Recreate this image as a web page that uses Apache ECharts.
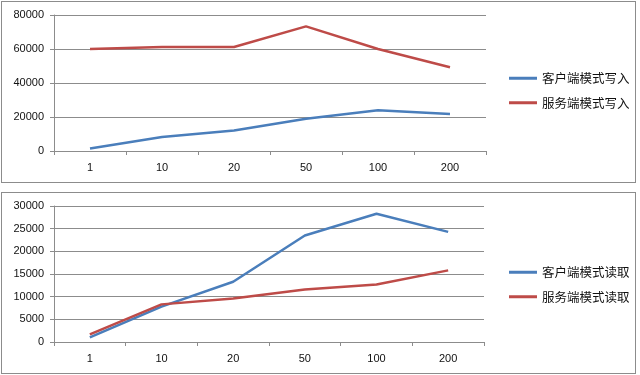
<!DOCTYPE html>
<html>
  <head>
    <meta charset="utf-8">
    <title></title>
    <style media="screen">
    body{margin:0; background:#fff;}
    .box{position:absolute; left:1px; width:633px; height:180px; border:1px solid #8c8c8c;}
    .box1{top:1px;}
    .box2{top:192px;}
    </style>
    <script src="https://cdn.jsdelivr.net/npm/echarts@6/dist/echarts.min.js" charset="utf-8"></script>
    <script>
    let categories = ['1','10','20','50','100','200'];
    let writeNames = ['客户端模式写入','服务端模式写入'];
    let clientWrite = [1500, 8200, 12000, 19000, 24000, 21700];
    let serverWrite = [60000, 61200, 61200, 73300, 60000, 49300];
    let readNames = ['客户端模式读取','服务端模式读取'];
    let clientRead = [1000, 7800, 13300, 23500, 28300, 24300];
    let serverRead = [1700, 8300, 9600, 11600, 12700, 15800];

    let colors = ['#4a7ebb','#be4b48'];
    let gray = '#8c8c8c';

    function makeOption(names, values, max, step, right, legendTop){
      return {
        color: colors,
        grid:{left:52, right:right, top:13, bottom:31},
        legend:{
          orient:'vertical', left:502, top:legendTop, itemGap:12,
          icon:'rect', itemWidth:28, itemHeight:3,
          textStyle:{fontSize:12.5, color:'#111', fontFamily:'Noto Sans CJK SC'},
          data:names
        },
        xAxis:{
          type:'category', data:categories, boundaryGap:true,
          axisLine:{lineStyle:{color:gray}},
          axisTick:{show:true, length:4, lineStyle:{color:gray}},
          axisLabel:{color:'#111', fontSize:11, margin:11, fontFamily:'Liberation Sans'}
        },
        yAxis:{
          type:'value', min:0, max:max, interval:step,
          axisLine:{show:true, lineStyle:{color:gray}},
          axisTick:{show:true, length:4, lineStyle:{color:gray}},
          axisLabel:{color:'#111', fontSize:11, margin:10, fontFamily:'Liberation Sans',
            formatter:v=>String(v)},
          splitLine:{lineStyle:{color:gray}}
        },
        series: names.map((n,i)=>({
          name:n, type:'line', data:values[i], symbol:'none',
          lineStyle:{width:2.5}, animation:false
        }))
      };
    }

    window.onload = function(){
      let c1 = echarts.init(document.querySelector('.box1'));
      c1.setOption(makeOption(writeNames, [clientWrite, serverWrite], 80000, 20000, 149, 65));
      let c2 = echarts.init(document.querySelector('.box2'));
      c2.setOption(makeOption(readNames, [clientRead, serverRead], 30000, 5000, 151, 68));
    }
    </script>
  </head>
  <body>
    <div class="box box1"></div>
    <div class="box box2"></div>
  </body>
</html>
